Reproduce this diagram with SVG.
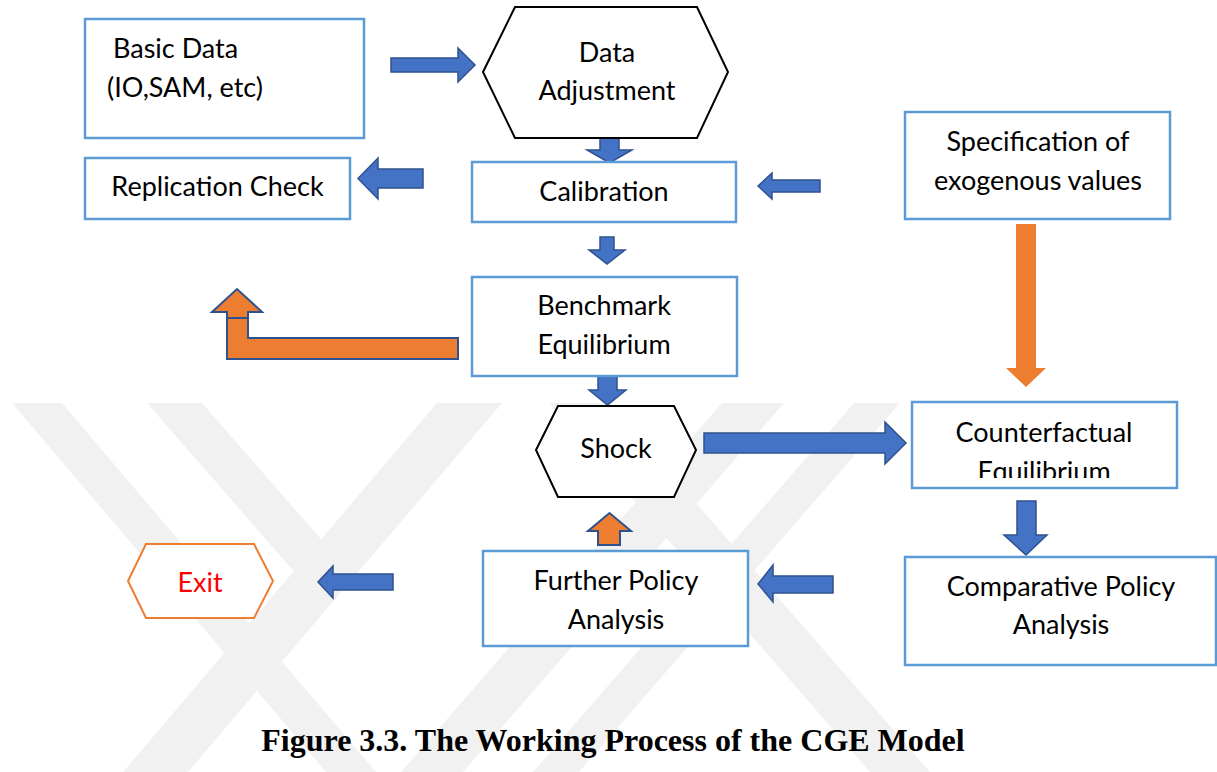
<svg xmlns="http://www.w3.org/2000/svg" width="1217" height="772" viewBox="0 0 1217 772">
<style>
.box{fill:#fff;stroke:#5B9BD5;stroke-width:2.5}
.hex{fill:#fff;stroke:#000;stroke-width:2}
.t{font-family:Lato,"Liberation Sans",sans-serif;font-size:27px;fill:#000}
.c{text-anchor:middle}
.ba{fill:#4472C4;stroke:#2F528F;stroke-width:1.5}
.oa{fill:#ED7D31}
.oas{fill:#ED7D31;stroke:#2F528F;stroke-width:2}
.wm{fill:#f1f1f1}
</style>
<defs>
<clipPath id="wmclip"><rect x="0" y="403" width="1217" height="369"/></clipPath>
<clipPath id="cfclip"><rect x="912" y="402" width="265" height="76"/></clipPath>
</defs>
<rect width="1217" height="772" fill="#fff"/>
<g id="watermark" clip-path="url(#wmclip)">
<polygon class="wm" points="12,403 62,403 376,772 326,772"/>
<polygon class="wm" points="147,403 202,403 320,538 325,607"/>
<polygon class="wm" points="437,403 502,403 188,772 123,772"/>
<polygon class="wm" points="722,403 784,403 463,772 401,772"/>
<polygon class="wm" points="854,403 900,403 579,772 533,772"/>
<polygon class="wm" points="549,403 609,403 930,772 870,772"/>
</g>
<g id="connectors">
<polygon class="ba" points="391,58 458,58 458,48 475,65 458,82 458,72 391,72"/>
<polygon class="ba" points="423,169 378,169 378,158 358,178.5 378,199 378,188 423,188"/>
<polygon class="ba" points="600,138 619,138 619,150 632,150 609.5,163 587,150 600,150"/>
<polygon class="ba" points="820,180 772,180 772,173 758,186 772,199 772,192 820,192"/>
<polygon class="ba" points="600,237 614,237 614,250 625,250 607,264 589,250 600,250"/>
<polygon class="ba" points="598,376 617,376 617,390 626,390 607.5,405 589,390 598,390"/>
<polygon class="ba" points="704,433 885,433 885,422 906,443 885,464 885,453 704,453"/>
<polygon class="oa" points="1016,224 1036,224 1036,368 1046,368 1026,387 1006,368 1016,368"/>
<polygon class="ba" points="1017,501 1036,501 1036,535 1047,535 1026,555 1004,535 1017,535"/>
<polygon class="ba" points="833,576 773,576 773,565 758,584 773,602 773,593 833,593"/>
<polygon class="oas" points="598,545 598,531 588,531 609.5,513 631,531 620,531 620,545"/>
<polygon class="ba" points="393,574 333,574 333,566 318,582 333,598 333,590 393,590"/>
<path class="oas" d="M458,338 L248,338 L248,312 L262,312 L237,289 L212,312 L227,312 L227,359 L458,359 Z"/>
<line x1="227" y1="318" x2="248" y2="318" stroke="#2F528F" stroke-width="2"/>
</g>
<g id="basic-data">
<rect class="box" x="85" y="19" width="279" height="119"/>
<text class="t" x="113" y="58">Basic Data</text>
<text class="t" x="107" y="97">(IO,SAM, etc)</text>
</g>
<g id="data-adjustment">
<polygon class="hex" points="483,72 515,7 697,7 728,72 697,138 515,138"/>
<text class="t c" x="607" y="62">Data</text>
<text class="t c" x="607" y="100">Adjustment</text>
</g>
<g id="replication-check">
<rect class="box" x="85" y="158" width="265" height="61"/>
<text class="t c" x="217.5" y="196">Replication Check</text>
</g>
<g id="calibration">
<rect class="box" x="472" y="162" width="264" height="60"/>
<text class="t c" x="604" y="201">Calibration</text>
</g>
<g id="specification">
<rect class="box" x="905" y="112" width="265" height="107"/>
<text class="t c" x="1038" y="151">Specification of</text>
<text class="t c" x="1038" y="190">exogenous values</text>
</g>
<g id="benchmark">
<rect class="box" x="472" y="277" width="265" height="99"/>
<text class="t c" x="604" y="315">Benchmark</text>
<text class="t c" x="604" y="354">Equilibrium</text>
</g>
<g id="shock">
<polygon class="hex" points="536,450 558,406 674,406 696,450 674,497 558,497"/>
<text class="t c" x="616" y="458">Shock</text>
</g>
<g id="counterfactual">
<rect class="box" x="912" y="402" width="265" height="86"/>
<text class="t c" x="1044" y="442">Counterfactual</text>
<text class="t c" x="1044" y="481" clip-path="url(#cfclip)">Equilibrium</text>
</g>
<g id="comparative">
<rect class="box" x="905" y="557" width="311" height="108"/>
<text class="t c" x="1061" y="596">Comparative Policy</text>
<text class="t c" x="1061" y="634">Analysis</text>
</g>
<g id="further-policy">
<rect class="box" x="483" y="551" width="265" height="95"/>
<text class="t c" x="616" y="590">Further Policy</text>
<text class="t c" x="616" y="629">Analysis</text>
</g>
<g id="exit">
<polygon points="128,581 146,544 254,544 273,581 254,618 146,618" fill="#fff" stroke="#ED7D31" stroke-width="2"/>
<text class="t c" x="200" y="592" style="fill:#FF0000">Exit</text>
</g>
<g id="caption">
<text x="613" y="751" text-anchor="middle" font-family="'Liberation Serif',serif" font-weight="bold" font-size="32">Figure 3.3. The Working Process of the CGE Model</text>
</g>
</svg>
